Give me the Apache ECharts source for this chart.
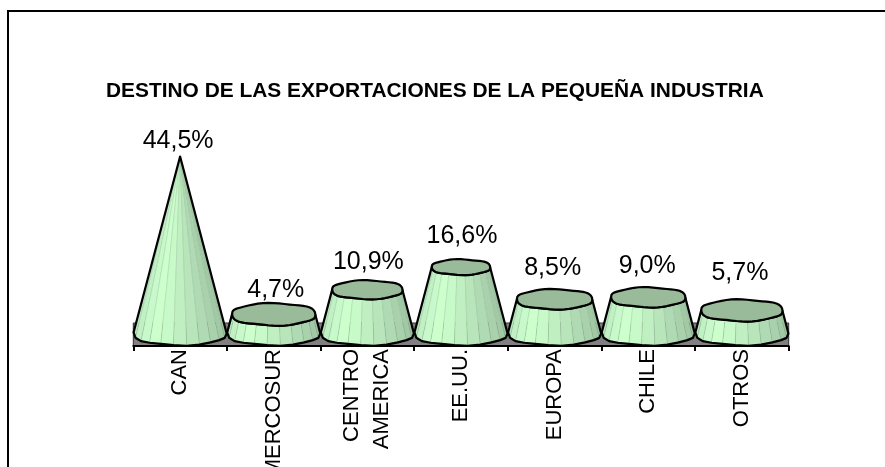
<!DOCTYPE html>
<html>
<head>
<meta charset="utf-8">
<style>
  html, body { margin: 0; background: #fff; }
  #chart { width: 885px; height: 467px; }
</style>
<script src="https://cdn.jsdelivr.net/npm/echarts@6/dist/echarts.min.js"></script>
</head>
<body>
<div id="chart"></div>
<script>
const titleText = 'DESTINO DE LAS EXPORTACIONES DE LA PEQUEÑA INDUSTRIA';
const categories = ['CAN', 'MERCOSUR', 'CENTRO\nAMERICA', 'EE.UU.', 'EUROPA', 'CHILE', 'OTROS'];
const values = [44.5, 4.7, 10.9, 16.6, 8.5, 9.0, 5.7];
const valueLabels = ['44,5%', '4,7%', '10,9%', '16,6%', '8,5%', '9,0%', '5,7%'];

// labels were moved by hand in the original, so each has its own nudge
const labelDx = [-2, 2, 1, 1, -2, -1, -2];
const labelDy = [-15, -24, -28, -31, -31, -31, -37];

// left to right shading of the cone facets
const facetColors = ['#b8e8bc', '#c0f0c3', '#c8f9ca', '#ccffcc', '#c8fac9', '#c0f0c2',
  '#b8e5ba', '#b0dab3', '#a9d1ac', '#a2c9a6', '#9cc2a0'];
const maxValue = 44.5;
const flatness = 0.265; // ellipse ry / rx

// the original cones are faceted, the rims are slightly wobbly
function rimPoint(cx, cy, rx, angle) {
  const ry = rx * flatness;
  const s = Math.sin(angle);
  return [
    cx + rx * Math.cos(angle),
    cy + ry * Math.sign(s) * Math.pow(Math.abs(s), 0.8) + ry * 0.05 * Math.sin(5 * angle + 1)
  ];
}

function renderFloor(params, api) {
  const cs = params.coordSys;
  const y0 = api.coord([0, 0])[1];
  return {
    type: 'rect',
    shape: {x: cs.x, y: y0 - 10, width: cs.width, height: 23},
    style: {fill: '#808080', stroke: '#333', lineWidth: 1}
  };
}

function renderCone(params, api) {
  const i = api.value(0);
  const v = api.value(1);
  const top = api.coord([i, v]);
  const base = api.coord([i, 0]);
  const R = api.size([1, 0])[0] * 0.497;
  const r = R * (1 - v / maxValue);
  const n = facetColors.length;
  const children = [];

  const frontTop = [];
  const frontBase = [];
  for (let k = 0; k <= n; k++) {
    const a = Math.PI - Math.PI * k / n;
    frontTop.push(rimPoint(top[0], top[1], r, a));
    frontBase.push(rimPoint(base[0], base[1], R, a));
  }
  for (let k = 0; k < n; k++) {
    children.push({
      type: 'polygon',
      shape: {points: [frontTop[k], frontTop[k + 1], frontBase[k + 1], frontBase[k]]},
      style: {fill: facetColors[k], stroke: 'rgba(120,160,125,0.45)', lineWidth: 0.5}
    });
  }
  // silhouette
  children.push({
    type: 'polygon',
    shape: {points: frontBase.concat(frontTop.slice().reverse())},
    style: {fill: null, stroke: '#000', lineWidth: 2.2, lineJoin: 'round'}
  });
  // top face
  if (r > 0.5) {
    const ring = [];
    for (let k = 0; k < 48; k++) {
      ring.push(rimPoint(top[0], top[1], r, Math.PI * 2 * k / 48));
    }
    children.push({
      type: 'polygon',
      shape: {points: ring},
      style: {fill: '#99bb99', stroke: '#000', lineWidth: 2.2, lineJoin: 'round'}
    });
  }
  children.push({
    type: 'text',
    style: {
      text: valueLabels[params.dataIndex],
      x: top[0] + labelDx[params.dataIndex],
      y: top[1] + labelDy[params.dataIndex],
      align: 'center',
      verticalAlign: 'middle',
      fill: '#000',
      font: '25px "Liberation Sans"'
    }
  });
  return {type: 'group', children: children};
}

const myChart = echarts.init(document.getElementById('chart'), null, {renderer: 'canvas'});
myChart.setOption({
  animation: false,
  backgroundColor: '#ffffff',
  title: {
    text: titleText,
    left: 106,
    top: 81,
    padding: 0,
    textStyle: {color: '#000', fontFamily: 'Liberation Sans', fontWeight: 'bold', fontSize: 20.9}
  },
  graphic: [{
    type: 'polyline',
    shape: {points: [[8, 480], [8, 11], [890, 11]]},
    style: {fill: null, stroke: '#000', lineWidth: 2}
  }],
  grid: {left: 133.3, right: 96.3, top: 156.5, bottom: 134, outerBoundsMode: 'none'},
  xAxis: {
    type: 'category',
    data: categories,
    offset: 13,
    z: 2,
    axisLine: {show: true, onZero: false, lineStyle: {color: '#000', width: 2}},
    axisTick: {show: true, length: 5, lineStyle: {color: '#000', width: 2}},
    axisLabel: {
      interval: 0,
      rotate: 90,
      margin: 3,
      color: '#000',
      fontFamily: 'Liberation Sans',
      fontSize: 22,
      lineHeight: 30,
      hideOverlap: false
    }
  },
  yAxis: {type: 'value', min: 0, max: maxValue, show: false},
  series: [
    {
      type: 'custom',
      z: 1,
      clip: false,
      silent: true,
      renderItem: renderFloor,
      data: [[0, 0]]
    },
    {
      type: 'custom',
      z: 3,
      clip: false,
      renderItem: renderCone,
      encode: {x: 0, y: 1},
      data: values.map((v, i) => [i, v])
    }
  ]
});
</script>
</body>
</html>
